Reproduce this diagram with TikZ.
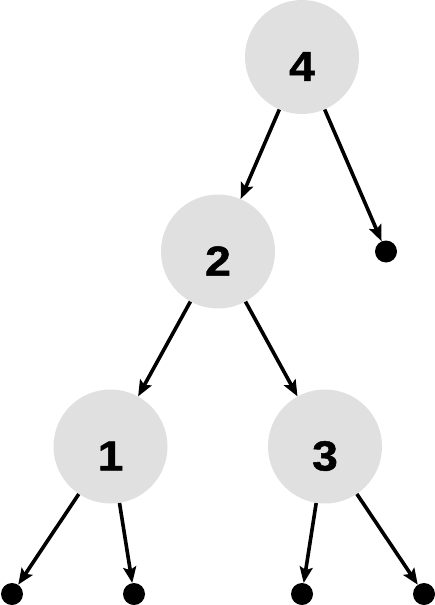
\documentclass[tikz,border=0pt]{standalone}
\usepackage{fontspec}
\setmainfont{Liberation Sans}
\newfontfamily\keyfont[FakeBold=1.2,FakeStretch=1.1]{Liberation Sans Bold}
\usetikzlibrary{arrows.meta}
\definecolor{nodegray}{HTML}{E0E0E0}
\tikzset{
  keynode/.style={circle, fill=nodegray, draw=none, minimum size=114pt, inner sep=0pt},
  leafdot/.style={circle, fill=black, draw=none, minimum size=22pt, inner sep=0pt},
  keytext/.style={anchor=center, inner sep=0pt, font=\keyfont\fontsize{42pt}{42pt}\selectfont},
  edge/.style={line width=3.6pt, -{Stealth[length=16pt,width=13pt,inset=3pt]}}
}
\begin{document}
\begin{tikzpicture}[x=1pt,y=-1pt]
\useasboundingbox (0,0) rectangle (435,605);
\node[keynode] (n4) at (302,57) {};
\node[keynode] (n2) at (218,251.5) {};
\node[keynode] (n1) at (110.5,446.5) {};
\node[keynode] (n3) at (325,446.5) {};
\node[leafdot] (d0) at (386,251.5) {};
\node[leafdot] (d1) at (12,594) {};
\node[leafdot] (d2) at (134,594) {};
\node[leafdot] (d3) at (302,594) {};
\node[leafdot] (d4) at (424,594) {};
\node[keytext] (t4) at ([yshift=-9.5pt]n4.center) {4};
\node[keytext] (t2) at ([yshift=-9.5pt]n2.center) {2};
\node[keytext] (t1) at ([yshift=-9.5pt]n1.center) {1};
\node[keytext] (t3) at ([yshift=-9.5pt]n3.center) {3};
\draw[edge] (n4) -- (n2);
\draw[edge] (n4) -- (d0);
\draw[edge] (n2) -- (n1);
\draw[edge] (n2) -- (n3);
\draw[edge] (n1) -- (d1);
\draw[edge] (n1) -- (d2);
\draw[edge] (n3) -- (d3);
\draw[edge] (n3) -- (d4);
\end{tikzpicture}
\end{document}
